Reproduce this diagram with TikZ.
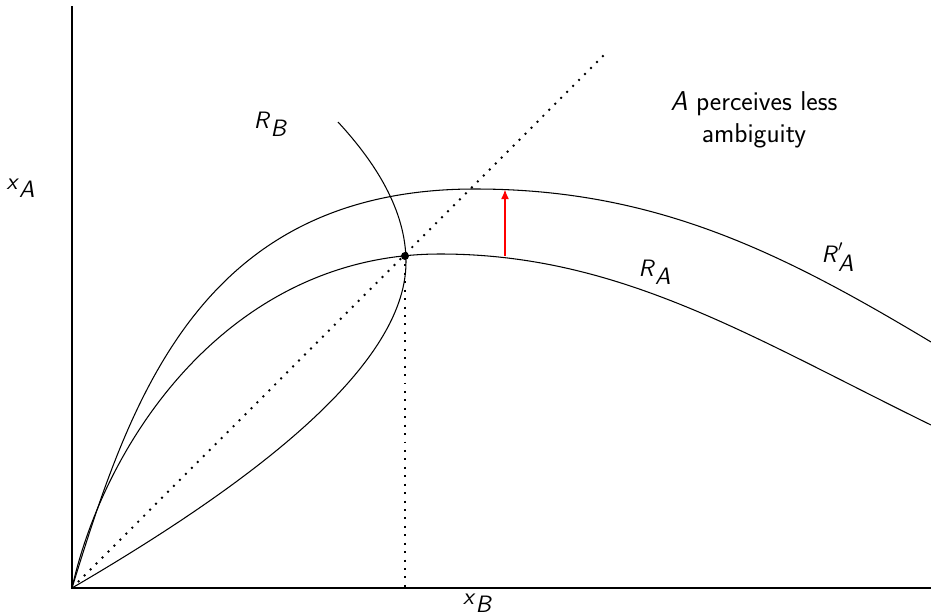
\documentclass[tikz,border=0pt]{standalone}
\usetikzlibrary{arrows.meta}
\newcommand{\lbl}[2]{$\textsf{\textit{#1}}_{\textsf{\textit{#2}}}$}
\newcommand{\lblp}[2]{$\textsf{\textit{#1}}'_{\textsf{\textit{#2}}}$}
\begin{document}
\begin{tikzpicture}[x=0.02cm,y=-0.02cm,
  curve/.style={line width=0.6pt},
  axis/.style={line width=0.9pt},
  dotline/.style={line width=1.1pt,dash pattern=on 1.1pt off 3.7pt},
  lab/.style={font=\fontsize{13.5}{17}\selectfont\sffamily,inner sep=0pt},
  txtlab/.style={font=\fontsize{15.5}{18}\selectfont\sffamily,inner sep=0pt,align=center}]
\useasboundingbox (0,0) rectangle (931,616);
\coordinate (O) at (72,588);
\coordinate (ytop) at (72,6);
\coordinate (xend) at (931,588);
\coordinate (diag) at (607,52);
\coordinate (E) at (405,256);
\coordinate (Ebase) at (405,588);
\coordinate (PA) at (440,254);
\coordinate (PAp) at (475,189);
\coordinate (RAend) at (931,425);
\coordinate (RApend) at (931,342);
\coordinate (RBtop) at (338,122);
\coordinate (RBmid) at (406,262);
\coordinate (arrS) at (505,256);
\coordinate (arrT) at (505,189.5);
% axes
\draw[axis] (ytop) -- (O) -- (xend);
% dotted lines
\draw[dotline] (O) -- (diag);
\draw[dotline] (E) -- (Ebase);
% R_A
\draw[curve] (O) .. controls (105,440) and (230,254) .. (PA)
  .. controls (620,254) and (751,337) .. (RAend);
% R'_A
\draw[curve] (O) .. controls (130,400) and (200,189) .. (PAp)
  .. controls (655,189) and (781,252) .. (RApend);
% R_B
\draw[curve] (RBtop) .. controls (375,162) and (406,210) .. (RBmid)
  .. controls (406,370) and (240,490) .. (O);
% equilibrium point
\fill (E) circle (4);
% red arrow
\draw[red,line width=0.6pt,-{Latex[length=5.5pt,width=4.5pt]}] (arrS) -- (arrT);
% labels
\node[lab] (xA) at (21,188) {\lbl{x}{A}};
\node[lab] (xB) at (478,603) {\lbl{x}{B}};
\node[lab] (RB) at (271,124) {\lbl{R}{B}};
\node[lab] (RA) at (655,272) {\lbl{R}{A}};
\node[lab] (RAp) at (838,257) {\lblp{R}{A}};
\node[txtlab] (txt) at (754,120) {\textit{A} perceives less\\ambiguity};
\end{tikzpicture}
\end{document}
